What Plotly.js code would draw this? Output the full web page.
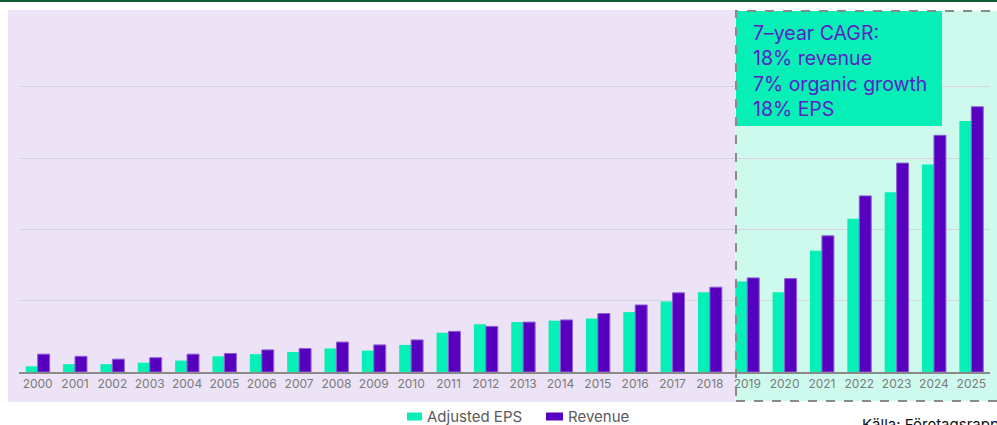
<!DOCTYPE html>
<html>
<head>
<meta charset="utf-8">
<script src="https://cdn.plot.ly/plotly-3.0.1.min.js"></script>
<style>html,body{margin:0;padding:0;background:#fff;}#chart{width:997px;height:425px;}</style>
</head>
<body>
<div id="chart"></div>
<script>
const years = ["2000","2001","2002","2003","2004","2005","2006","2007","2008","2009","2010","2011","2012","2013","2014","2015","2016","2017","2018","2019","2020","2021","2022","2023","2024","2025"];
const adjustedEPS = [0.08,0.11,0.11,0.13,0.16,0.22,0.25,0.28,0.33,0.30,0.38,0.55,0.67,0.70,0.72,0.75,0.84,0.99,1.12,1.27,1.12,1.70,2.15,2.52,2.91,3.52];
const revenue = [0.25,0.22,0.18,0.20,0.25,0.26,0.31,0.33,0.42,0.38,0.45,0.57,0.64,0.70,0.73,0.82,0.94,1.11,1.19,1.32,1.31,1.91,2.47,2.93,3.32,3.72];
const seriesNames = ["Adjusted EPS","Revenue"];
const seriesColors = ["#05EFB7","#5800BF"];
const cagrText = "7–year CAGR:<br>18% revenue<br>7% organic growth<br>18% EPS";
const sourceText = "Källa: Företagsrapporter";

const W = 997, H = 425, L = 19, R = 7, T = 10, B = 53;
const pw = W - L - R, ph = H - T - B;
const px = x => (x - L) / pw;
const py = y => (H - B - y) / ph;

const font = "Inter, 'Noto Sans', sans-serif";

const traces = [
  {type:"bar", name:seriesNames[0], x:years, y:adjustedEPS,
   marker:{color:seriesColors[0], line:{width:0}}, hoverinfo:"x+y"},
  {type:"bar", name:seriesNames[1], x:years, y:revenue,
   marker:{color:seriesColors[1], line:{width:1, color:"#8c5fd6"}}, hoverinfo:"x+y"}
];

// custom legend (swatch + label)
const legendItems = [
  {sx0:407, sx1:422, tx:425},
  {sx0:546, sx1:563, tx:566}
];

const shapes = [
  {type:"rect", xref:"paper", yref:"paper", x0:px(8), x1:px(735.5), y0:py(402), y1:py(10),
   fillcolor:"#ECE3F6", line:{width:0}, layer:"below"},
  {type:"rect", xref:"paper", yref:"paper", x0:px(735.5), x1:px(1005), y0:py(401), y1:py(11),
   fillcolor:"#CEFAED", line:{width:0}, layer:"below"},
  {type:"rect", xref:"paper", yref:"paper", x0:px(736), x1:px(942), y0:py(126), y1:py(11),
   fillcolor:"#05EFB7", line:{width:0}, layer:"above"},
  {type:"rect", xref:"paper", yref:"paper", x0:px(736), x1:px(1010), y0:py(401), y1:py(11),
   fillcolor:"rgba(0,0,0,0)", line:{color:"#8a8a8a", width:2, dash:"dash"}, layer:"above"},
  {type:"line", xref:"paper", yref:"paper", x0:px(-5), x1:px(1005), y0:py(1), y1:py(1),
   line:{color:"#0d5a30", width:2}, layer:"above"}
];
const annotations = [
  {xref:"paper", yref:"paper", x:px(751), y:py(19), xanchor:"left", yanchor:"top",
   text:cagrText, showarrow:false, align:"left",
   font:{size:19.5, color:"#5A1FC4", family:font}},
  {xref:"paper", yref:"paper", x:px(860), y:py(413), xanchor:"left", yanchor:"top",
   text:sourceText, showarrow:false, align:"left",
   font:{size:15, color:"#111", family:font}}
];
legendItems.forEach((it, i) => {
  shapes.push({type:"rect", xref:"paper", yref:"paper", x0:px(it.sx0), x1:px(it.sx1),
    y0:py(420.5), y1:py(412.5), fillcolor:seriesColors[i], line:{width:0}, layer:"above"});
  annotations.push({xref:"paper", yref:"paper", x:px(it.tx), y:py(416.5), xanchor:"left", yanchor:"middle",
    text:seriesNames[i], showarrow:false, font:{size:15, color:"#5a5a5a", family:font}});
});

const layout = {
  width:W, height:H,
  margin:{l:L, r:R, t:T, b:B, pad:0},
  paper_bgcolor:"#ffffff",
  plot_bgcolor:"rgba(0,0,0,0)",
  barmode:"group",
  bargap:0.36,
  bargroupgap:0,
  font:{family:font, color:"#777"},
  showlegend:false,
  xaxis:{type:"category", range:[-0.5,25.5], showgrid:false, zeroline:false,
         showline:true, linecolor:"#8a8a8a", linewidth:2,
         ticks:"", tickfont:{size:12, color:"#7a7a7a", family:font}, fixedrange:true},
  yaxis:{range:[0,5.077], tickvals:[1,2,3,4], showticklabels:false,
         showgrid:true, gridcolor:"#d8d3dd", gridwidth:1, zeroline:false, showline:false, fixedrange:true},
  shapes:shapes,
  annotations:annotations
};

Plotly.newPlot("chart", traces, layout, {displayModeBar:false, staticPlot:true});
</script>
</body>
</html>
